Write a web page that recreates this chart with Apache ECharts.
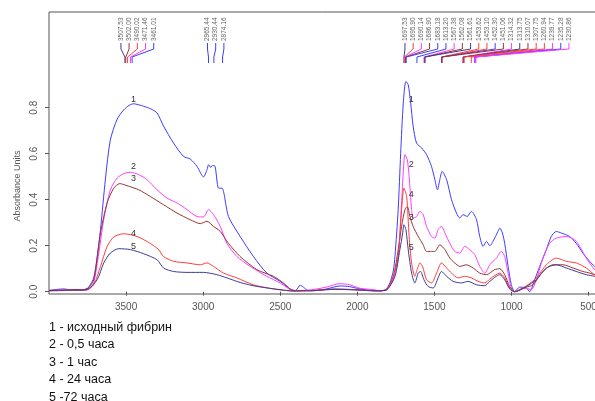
<!DOCTYPE html>
<html><head><meta charset="utf-8">
<script src="https://cdn.jsdelivr.net/npm/echarts@6/dist/echarts.min.js"></script>
<style>html,body{margin:0;padding:0;background:#fff}#c{width:595px;height:401px}</style>
</head><body><div id="c"></div>
<script>
// ---------- data (wavenumber, absorbance) ----------
const curve1 = [[4000,0.006],[3950,0.01],[3900,0.012],[3861,0.008],[3820,0.01],[3796,0.006],[3760,0.012],[3742,0.02],[3710,0.06],[3688,0.15],[3666,0.27],[3634,0.49],[3602,0.66],[3558,0.75],[3516,0.79],[3480,0.81],[3451,0.817],[3386,0.806],[3340,0.795],[3299,0.777],[3257,0.72],[3192,0.646],[3127,0.588],[3084,0.577],[3040,0.545],[2998,0.499],[2975,0.53],[2965,0.552],[2950,0.54],[2943,0.548],[2926,0.548],[2900,0.45],[2878,0.45],[2836,0.327],[2760,0.24],[2674,0.153],[2587,0.081],[2501,0.045],[2436,0.012],[2400,0.005],[2371,0.028],[2350,0.02],[2320,0.005],[2285,0.004],[2200,0.012],[2112,0.025],[2050,0.022],[1983,0.012],[1900,0.005],[1853,0.003],[1815,0.01],[1789,0.038],[1767,0.09],[1756,0.153],[1735,0.357],[1719,0.60],[1702,0.82],[1685,0.914],[1670,0.90],[1654,0.82],[1638,0.72],[1616,0.646],[1583,0.625],[1551,0.596],[1519,0.545],[1497,0.487],[1480,0.443],[1465,0.487],[1450,0.523],[1421,0.487],[1389,0.40],[1357,0.342],[1335,0.32],[1314,0.335],[1288,0.327],[1260,0.349],[1227,0.313],[1206,0.24],[1184,0.197],[1162,0.219],[1141,0.2],[1109,0.233],[1088,0.262],[1076,0.277],[1059,0.255],[1044,0.21],[1022,0.11],[1001,0.03],[979,0.0],[947,0.02],[903,0.016],[882,0.0],[850,0.052],[817,0.11],[774,0.183],[742,0.24],[709,0.262],[677,0.255],[623,0.24],[580,0.21],[537,0.168],[493,0.132],[461,0.11],[420,0.09]];
const curve2 = [[4000,0.004],[3900,0.008],[3800,0.006],[3742,0.01],[3710,0.038],[3677,0.168],[3645,0.313],[3602,0.443],[3558,0.494],[3516,0.513],[3472,0.519],[3418,0.509],[3364,0.487],[3299,0.443],[3235,0.407],[3170,0.386],[3105,0.357],[3040,0.327],[2998,0.325],[2965,0.357],[2933,0.335],[2889,0.284],[2846,0.21],[2781,0.153],[2695,0.11],[2587,0.067],[2501,0.038],[2415,0.005],[2300,0.008],[2200,0.02],[2112,0.035],[2050,0.03],[1983,0.015],[1886,0.008],[1853,0.003],[1815,0.01],[1767,0.052],[1735,0.153],[1713,0.386],[1691,0.596],[1676,0.574],[1664,0.501],[1648,0.357],[1638,0.32],[1616,0.327],[1594,0.349],[1573,0.335],[1551,0.284],[1519,0.24],[1497,0.233],[1476,0.27],[1454,0.284],[1432,0.255],[1400,0.21],[1368,0.175],[1335,0.168],[1303,0.197],[1271,0.183],[1238,0.161],[1206,0.11],[1173,0.081],[1141,0.117],[1098,0.146],[1066,0.175],[1044,0.153],[1022,0.081],[1001,0.016],[979,0.0],[925,0.016],[871,0.01],[839,0.052],[796,0.146],[753,0.21],[709,0.233],[644,0.24],[580,0.219],[515,0.146],[461,0.096],[420,0.07]];
const curve3 = [[4000,0.005],[3850,0.008],[3760,0.01],[3710,0.052],[3666,0.255],[3623,0.386],[3580,0.45],[3541,0.47],[3494,0.461],[3418,0.443],[3343,0.414],[3257,0.378],[3170,0.342],[3084,0.313],[3019,0.296],[2975,0.306],[2933,0.284],[2889,0.262],[2836,0.21],[2760,0.153],[2652,0.096],[2544,0.067],[2479,0.038],[2415,0.005],[2300,0.005],[2150,0.012],[2050,0.01],[1900,0.004],[1815,0.008],[1767,0.067],[1735,0.183],[1713,0.284],[1691,0.357],[1676,0.371],[1659,0.327],[1638,0.284],[1605,0.24],[1573,0.204],[1551,0.175],[1519,0.175],[1497,0.175],[1465,0.204],[1432,0.183],[1400,0.146],[1368,0.125],[1335,0.11],[1292,0.117],[1249,0.103],[1206,0.081],[1162,0.074],[1109,0.096],[1076,0.1],[1044,0.074],[1012,0.023],[979,0.0],[903,0.02],[861,0.03],[796,0.088],[731,0.117],[666,0.117],[601,0.103],[537,0.088],[493,0.081],[461,0.074],[420,0.065]];
const curve4 = [[4000,0.003],[3850,0.006],[3760,0.008],[3710,0.03],[3666,0.11],[3623,0.197],[3580,0.238],[3516,0.252],[3429,0.24],[3343,0.21],[3289,0.183],[3257,0.153],[3192,0.132],[3105,0.125],[3019,0.117],[2975,0.125],[2933,0.11],[2868,0.081],[2781,0.06],[2674,0.03],[2544,0.012],[2415,0.003],[2300,0.005],[2150,0.01],[2000,0.008],[1886,0.004],[1815,0.006],[1767,0.067],[1735,0.153],[1713,0.357],[1698,0.45],[1680,0.414],[1664,0.24],[1648,0.125],[1627,0.067],[1612,0.096],[1594,0.125],[1577,0.11],[1551,0.052],[1519,0.038],[1486,0.081],[1454,0.125],[1421,0.103],[1389,0.081],[1346,0.06],[1303,0.067],[1260,0.06],[1217,0.045],[1173,0.038],[1141,0.055],[1076,0.081],[1044,0.06],[1012,0.016],[979,0.0],[903,0.026],[839,0.06],[774,0.117],[709,0.146],[644,0.132],[580,0.125],[515,0.103],[461,0.074],[420,0.06]];
const curve5 = [[4000,0.005],[3850,0.007],[3760,0.008],[3688,0.052],[3645,0.125],[3602,0.168],[3548,0.187],[3472,0.183],[3386,0.165],[3299,0.139],[3257,0.103],[3192,0.088],[3105,0.084],[2998,0.084],[2911,0.074],[2846,0.06],[2760,0.04],[2652,0.023],[2501,0.009],[2415,0.003],[2300,0.004],[2150,0.01],[2000,0.008],[1886,0.004],[1815,0.006],[1756,0.067],[1724,0.183],[1706,0.255],[1698,0.291],[1685,0.27],[1670,0.183],[1648,0.081],[1627,0.038],[1605,0.081],[1590,0.088],[1568,0.052],[1541,0.023],[1508,0.016],[1476,0.06],[1454,0.088],[1421,0.067],[1379,0.045],[1324,0.038],[1282,0.045],[1227,0.03],[1173,0.026],[1141,0.045],[1076,0.074],[1044,0.052],[1012,0.012],[979,0.0],[903,0.023],[839,0.052],[774,0.103],[709,0.117],[644,0.103],[580,0.088],[515,0.074],[461,0.067],[420,0.06]];

const curveNames = ['1','2','3','4','5'];
const curveColors = ['#3c3cff','#ff3cff','#993333','#ff3c3c','#3c3c99'];
const xTicks = [3500,3000,2500,2000,1500,1000,500];
const yTicks = [0,0.2,0.4,0.6,0.8];

// peak annotations (wavenumber + curve number)
const peaksLeft = [3507.53,3502.00,3490.02,3471.46,3461.01];
const peaksLeftCurve = [5,3,4,2,1];
const peaksMid = [2965.44,2930.44,2874.16];
const peaksMidCurve = [1,1,1];
const peaksRight = [1697.53,1695.90,1690.14,1686.90,1683.18,1613.20,1567.38,1562.08,1561.61,1453.62,1453.10,1452.30,1451.06,1314.32,1313.75,1310.07,1307.75,1260.94,1239.77,1235.28,1230.86];
const peaksRightCurve = [5,4,2,3,1,1,2,3,5,4,4,1,3,2,5,3,4,4,2,1,2];

// curve number labels placed at (wavenumber, absorbance)
const curveTagsLeft = [[3452,0.835,'1'],[3452,0.543,'2'],[3452,0.491,'3'],[3452,0.252,'4'],[3452,0.196,'5']];
const curveTagsRight = [[1651,0.835,'1'],[1651,0.552,'2'],[1651,0.422,'4'],[1651,0.322,'3'],[1651,0.191,'5']];

const legendLines = ['1 - исходный фибрин','2 - 0,5 часа','3 - 1 час','4 - 24 часа','5 -72 часа'];

// ---------- layout constants ----------
const groupShift = [-4,-1,1];
const labelStep = 8.2;

const curves = [curve1,curve2,curve3,curve4,curve5];
const peakData = [];
[[peaksLeft,peaksLeftCurve],[peaksMid,peaksMidCurve],[peaksRight,peaksRightCurve]].forEach((g,gi)=>{
  g[0].forEach((w,i)=>peakData.push([w,0,gi,i,g[1][i],g[0][0]]));
});
const tagData = curveTagsLeft.concat(curveTagsRight);

const chart = echarts.init(document.getElementById('c'), null, {renderer:'canvas'});
const FONT = '"Liberation Sans", Arial, sans-serif';

const series = curves.map((d,i)=>({
  type:'line', name:curveNames[i], data:d, showSymbol:false, smooth:0.25,
  lineStyle:{color:curveColors[i], width:1}, itemStyle:{color:curveColors[i]},
  silent:true, animation:false, z:2
}));
series.push({
  type:'custom', data:peakData, silent:true, animation:false, z:3, clip:false,
  renderItem:function(params, api){
    const w = api.value(0), gi = api.value(2), i = api.value(3), c = api.value(4), w0 = api.value(5);
    const top = params.coordSys.y;
    const px = api.coord([w,0])[0];
    const p0 = api.coord([w0,0])[0];
    const lx = p0 + groupShift[gi] + i*labelStep;
    return {type:'group', children:[
      {type:'polyline', shape:{points:[[lx,top+31],[lx,top+37],[px,top+45],[px,top+51]]},
       style:{stroke:curveColors[c-1], fill:null, lineWidth:1}},
      {type:'text', x:lx, y:top+29, rotation:Math.PI/2,
       style:{text:w.toFixed(2), fill:'#666', font:'6.5px '+FONT, align:'left', verticalAlign:'middle'}}
    ]};
  }
});
series.push({
  type:'custom', data:tagData, silent:true, animation:false, z:4, clip:false,
  renderItem:function(params, api){
    const p = api.coord([api.value(0), api.value(1)]);
    return {type:'text', x:p[0], y:p[1],
      style:{text:tagData[params.dataIndex][2], fill:'#333', font:'9px '+FONT, align:'center', verticalAlign:'middle'}};
  }
});

const legendGraphics = legendLines.map((t,i)=>({
  type:'text', left:49, top:321 + i*17.5,
  style:{text:t, fill:'#111', font:'12.5px "Liberation Sans", Arial, sans-serif'}
}));

chart.setOption({
  animation:false,
  backgroundColor:'#fff',
  grid:{left:49, top:12, width:555, height:282, outerBoundsMode:'none', containLabel:false,
    show:true, borderColor:'#555', borderWidth:1, backgroundColor:'transparent'},
  xAxis:{type:'value', inverse:true, min:400, max:4000,
    axisLine:{show:false}, splitLine:{show:false},
    axisTick:{show:true, customValues:xTicks, length:4, inside:false, lineStyle:{color:'#555'}},
    axisLabel:{customValues:xTicks, margin:8, color:'#555', fontSize:10, fontFamily:'Liberation Sans',
      formatter:v=>String(v)}
  },
  yAxis:{type:'value', min:-0.01, max:1.216,
    axisLine:{show:false}, splitLine:{show:false},
    axisTick:{show:true, customValues:yTicks, length:4, lineStyle:{color:'#555'}},
    axisLabel:{customValues:yTicks, rotate:90, margin:10, color:'#555', fontSize:10, fontFamily:'Liberation Sans',
      formatter:v=>v.toFixed(1)}
  },
  graphic:[
    {type:'text', x:18, y:186, rotation:Math.PI/2,
     style:{text:'Absorbance Units', fill:'#555', font:'9px "Liberation Sans", Arial, sans-serif', align:'center', verticalAlign:'middle'}}
  ].concat(legendGraphics),
  series:series
});
</script></body></html>
